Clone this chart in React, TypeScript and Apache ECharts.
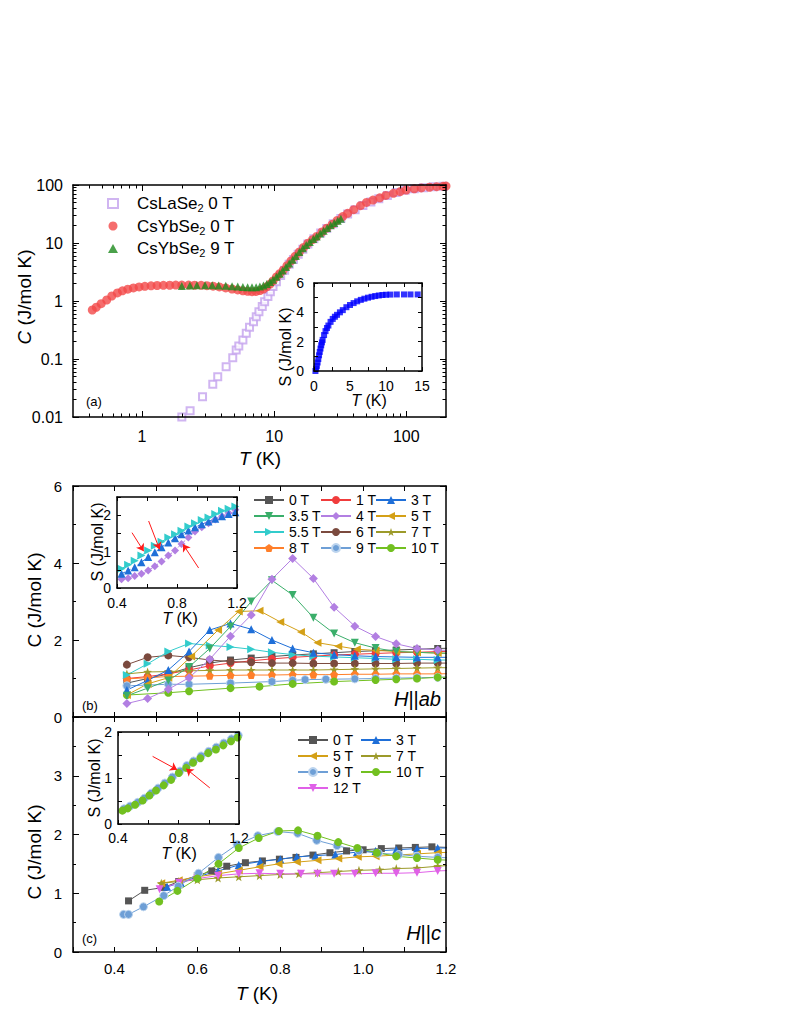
import React, { useEffect, useRef } from "react";
import * as echarts from "echarts";

const FONT = "'Liberation Sans', Arial, Helvetica, sans-serif";

// ---------------- Panel (a): C(T) log-log ----------------
const laT = [2.0, 2.31, 2.87, 3.43, 3.74, 4.33, 4.86, 5.16, 5.4, 5.8, 6.15, 6.51, 6.98, 7.32, 7.67, 8.13, 8.47, 8.97, 9.36, 9.8, 10.4, 11.2, 12.0, 13.0, 14.0, 15.2, 16.5, 18, 20, 22.5, 25, 28, 32, 36, 41, 47, 54, 62, 72, 84, 98, 115, 135, 160, 190];
const laC = [0.01, 0.0128, 0.0224, 0.0366, 0.0496, 0.0738, 0.105, 0.143, 0.168, 0.213, 0.277, 0.352, 0.44, 0.537, 0.655, 0.8, 0.975, 1.19, 1.45, 1.77, 2.15, 2.75, 3.4, 4.3, 5.2, 6.4, 7.8, 9.6, 11.8, 14.8, 17.8, 21.5, 26.5, 31.5, 37.5, 44.5, 51, 58, 66, 74, 81, 86, 90, 93, 95];

const yb0T = [0.42, 0.45, 0.49, 0.54, 0.59, 0.65, 0.71, 0.78, 0.86, 0.95, 1.05, 1.17, 1.3, 1.45, 1.62, 1.8, 2.0, 2.25, 2.5, 2.8, 3.1, 3.45, 3.85, 4.3, 4.8, 5.3, 5.8, 6.3, 6.8, 7.3, 7.8, 8.3, 8.8, 9.3, 9.8, 10.4, 11.0, 11.7, 12.5, 13.4, 14.4, 15.5, 16.7, 18, 19.5, 21, 23, 25, 27.5, 30, 33, 36, 40, 45, 50, 56, 63, 70, 80, 90, 100, 115, 130, 150, 170, 190, 200];
const yb0C = [0.7, 0.78, 0.9, 1.04, 1.22, 1.38, 1.5, 1.6, 1.68, 1.75, 1.79, 1.83, 1.85, 1.86, 1.87, 1.88, 1.88, 1.88, 1.87, 1.86, 1.84, 1.8, 1.75, 1.68, 1.61, 1.55, 1.5, 1.47, 1.45, 1.46, 1.51, 1.61, 1.76, 1.96, 2.22, 2.6, 2.95, 3.4, 4.05, 4.9, 5.9, 7.0, 8.4, 9.9, 11.4, 13.0, 15.5, 18, 21, 24.5, 28.5, 32.5, 37.5, 44, 50, 55, 60, 66, 72, 77, 82, 86, 89, 91.5, 93.5, 95, 96];

const yb9T = [2.0, 2.3, 2.6, 3.0, 3.4, 3.8, 4.3, 4.8, 5.3, 5.8, 6.3, 6.8, 7.3, 7.8, 8.3, 8.8, 9.3, 9.8, 10.4, 11.0, 11.6, 12.3, 13.0, 13.8, 14.6, 15.5, 16.5, 17.5, 18.6, 19.8, 21, 22.3, 23.7, 25.2, 26.8, 28.5, 30.3, 32];
const yb9C = [1.82, 1.85, 1.87, 1.87, 1.86, 1.85, 1.83, 1.8, 1.77, 1.75, 1.73, 1.72, 1.73, 1.77, 1.85, 1.97, 2.13, 2.33, 2.62, 2.95, 3.35, 3.85, 4.45, 5.15, 5.95, 7.0, 8.1, 9.2, 10.4, 11.7, 13.0, 14.6, 16.3, 18.2, 20.2, 22.2, 24.3, 26.3];

// inset (a): entropy
const insAT = [0.2, 0.3, 0.4, 0.5, 0.6, 0.7, 0.8, 0.9, 1.0, 1.1, 1.2, 1.4, 1.6, 1.8, 2.0, 2.3, 2.6, 2.9, 3.2, 3.6, 4.0, 4.5, 5.0, 5.5, 6.0, 6.5, 7.0, 7.5, 8.0, 8.5, 9.0, 9.5, 10.0, 10.6, 11.5, 12.5, 13.4, 14.4];
const insAS = [0.0, 0.15, 0.35, 0.58, 0.82, 1.07, 1.3, 1.53, 1.75, 1.95, 2.12, 2.45, 2.72, 2.93, 3.1, 3.35, 3.55, 3.7, 3.83, 4.0, 4.15, 4.35, 4.5, 4.63, 4.75, 4.85, 4.93, 5.0, 5.06, 5.11, 5.15, 5.18, 5.2, 5.21, 5.22, 5.22, 5.22, 5.22];

const aXMajor = [1, 10, 100];
const aXMinor = [0.4, 0.5, 0.6, 0.7, 0.8, 0.9, 2, 3, 4, 5, 6, 7, 8, 9, 20, 30, 40, 50, 60, 70, 80, 90];
const aYMajor = [0.01, 0.1, 1, 10, 100];
const aYMinor = [0.02, 0.03, 0.04, 0.05, 0.06, 0.07, 0.08, 0.09, 0.2, 0.3, 0.4, 0.5, 0.6, 0.7, 0.8, 0.9, 2, 3, 4, 5, 6, 7, 8, 9, 20, 30, 40, 50, 60, 70, 80, 90];
const aLegendNames = ["CsLaSe2 0 T", "CsYbSe2 0 T", "CsYbSe2 9 T"];

// ---------------- Panel (b): H || ab ----------------
const bT = [0.43, 0.48, 0.53, 0.58, 0.63, 0.68, 0.73, 0.78, 0.83, 0.88, 0.93, 0.98, 1.03, 1.08, 1.13, 1.18, 1.23];
const b0C = [0.88, 1.0, 1.12, 1.28, 1.4, 1.48, 1.53, 1.57, 1.61, 1.64, 1.67, 1.7, 1.72, 1.74, 1.76, 1.78, 1.79];
const b1C = [1.0, 1.05, 1.12, 1.22, 1.33, 1.4, 1.46, 1.51, 1.55, 1.58, 1.61, 1.63, 1.65, 1.67, 1.68, 1.7, 1.71];
const b3C = [0.7, 0.95, 1.22, 1.7, 2.26, 2.43, 2.28, 2.0, 1.78, 1.67, 1.62, 1.59, 1.57, 1.56, 1.55, 1.55, 1.55];
const b35C = [0.55, 0.75, 0.95, 1.3, 1.78, 2.35, 3.0, 3.55, 3.17, 2.58, 2.17, 1.93, 1.79, 1.7, 1.68, 1.66, 1.65];
const b4C = [0.35, 0.48, 0.72, 1.02, 1.5, 2.1, 2.65, 3.58, 4.12, 3.6, 2.85, 2.36, 2.09, 1.9, 1.78, 1.74, 1.72];
const b55C = [1.09, 1.38, 1.7, 1.91, 1.86, 1.82, 1.76, 1.68, 1.62, 1.58, 1.56, 1.54, 1.52, 1.5, 1.5, 1.48, 1.48];
const b6C = [1.36, 1.55, 1.6, 1.55, 1.48, 1.44, 1.42, 1.4, 1.4, 1.39, 1.39, 1.39, 1.39, 1.39, 1.4, 1.4, 1.4];
const b7C = [1.12, 1.17, 1.18, 1.2, 1.21, 1.22, 1.22, 1.22, 1.22, 1.22, 1.23, 1.24, 1.25, 1.26, 1.27, 1.28, 1.28];
const b8C = [0.99, 1.02, 1.05, 1.06, 1.07, 1.08, 1.09, 1.09, 1.1, 1.1, 1.1, 1.11, 1.11, 1.12, 1.12, 1.12, 1.13];
const b5T = [0.43, 0.48, 0.53, 0.585, 0.65, 0.7, 0.75, 0.8, 0.85, 0.89, 0.94, 0.985, 1.03, 1.08, 1.13, 1.18, 1.23];
const b5C = [0.57, 0.86, 1.02, 1.57, 2.26, 2.74, 2.76, 2.47, 2.21, 1.93, 1.84, 1.76, 1.73, 1.7, 1.68, 1.66, 1.65];
const b9T = [0.43, 0.48, 0.53, 0.58, 0.68, 0.78, 0.83, 0.86, 0.91, 0.98, 1.03, 1.08, 1.13, 1.18, 1.23];
const b9C = [0.81, 0.83, 0.85, 0.85, 0.88, 0.92, 0.95, 0.97, 0.98, 0.99, 1.0, 1.01, 1.02, 1.03, 1.04];
const b10T = [0.43, 0.53, 0.58, 0.68, 0.75, 0.83, 0.93, 1.03, 1.08, 1.13, 1.18, 1.23];
const b10C = [0.57, 0.63, 0.67, 0.75, 0.79, 0.86, 0.92, 0.96, 0.98, 1.0, 1.03, 1.04];

// inset (b): entropy
const ibT = [0.43, 0.474, 0.518, 0.563, 0.608, 0.652, 0.697, 0.742, 0.787, 0.83, 0.876, 0.92, 0.965, 1.01, 1.055, 1.1, 1.144, 1.189];
const ib55S = [0.53, 0.64, 0.75, 0.89, 1.03, 1.16, 1.27, 1.39, 1.48, 1.57, 1.69, 1.78, 1.87, 1.94, 2.03, 2.12, 2.18, 2.24];
const ib3S = [0.39, 0.48, 0.57, 0.71, 0.85, 0.98, 1.12, 1.25, 1.37, 1.48, 1.58, 1.67, 1.75, 1.83, 1.9, 1.97, 2.03, 2.08];
const ib4S = [0.24, 0.27, 0.33, 0.39, 0.48, 0.6, 0.73, 0.89, 1.03, 1.21, 1.39, 1.55, 1.67, 1.78, 1.88, 1.97, 2.06, 2.15];
const arrowsB = [[0.5, 1.52, 0.578, 1.01], [0.611, 1.84, 0.684, 1.06], [0.944, 0.55, 0.84, 1.2]];

// ---------------- Panel (c): H || c ----------------
const c0T = [0.434, 0.473, 0.52, 0.555, 0.6, 0.635, 0.671, 0.716, 0.757, 0.798, 0.838, 0.879, 0.92, 0.96, 1.0, 1.044, 1.086, 1.126, 1.166, 1.205];
const c0C = [0.87, 1.05, 1.1, 1.2, 1.3, 1.38, 1.46, 1.52, 1.55, 1.58, 1.61, 1.65, 1.69, 1.72, 1.74, 1.76, 1.77, 1.78, 1.79, 1.78];
const c3T = [0.527, 0.56, 0.6, 0.65, 0.7, 0.752, 0.8, 0.84, 0.885, 0.933, 0.985, 1.03, 1.08, 1.13, 1.18, 1.22];
const c3C = [1.11, 1.18, 1.28, 1.38, 1.48, 1.54, 1.58, 1.62, 1.64, 1.66, 1.7, 1.72, 1.74, 1.76, 1.77, 1.77];
const c5T = [0.513, 0.555, 0.6, 0.65, 0.7, 0.75, 0.796, 0.84, 0.89, 0.94, 0.987, 1.03, 1.08, 1.13, 1.18, 1.22];
const c5C = [1.17, 1.22, 1.28, 1.33, 1.39, 1.45, 1.5, 1.53, 1.56, 1.59, 1.62, 1.63, 1.65, 1.67, 1.69, 1.7];
const c7T = [0.513, 0.555, 0.6, 0.65, 0.7, 0.75, 0.8, 0.845, 0.89, 0.94, 0.99, 1.04, 1.08, 1.13, 1.18, 1.22];
const c7C = [1.17, 1.2, 1.23, 1.26, 1.28, 1.3, 1.32, 1.33, 1.35, 1.37, 1.39, 1.4, 1.42, 1.43, 1.46, 1.48];
const c9T = [0.422, 0.434, 0.47, 0.519, 0.554, 0.603, 0.651, 0.696, 0.746, 0.794, 0.842, 0.888, 0.937, 0.99, 1.037, 1.086, 1.13, 1.18, 1.22];
const c9C = [0.64, 0.64, 0.77, 0.96, 1.12, 1.34, 1.61, 1.83, 1.98, 2.05, 2.02, 1.9, 1.81, 1.72, 1.68, 1.66, 1.63, 1.61, 1.6];
const c10T = [0.508, 0.552, 0.6, 0.651, 0.7, 0.748, 0.797, 0.843, 0.89, 0.94, 0.986, 1.033, 1.08, 1.13, 1.18, 1.22];
const c10C = [0.86, 1.04, 1.25, 1.5, 1.77, 1.94, 2.06, 2.07, 1.98, 1.87, 1.77, 1.69, 1.63, 1.6, 1.57, 1.56];
const c12T = [0.509, 0.556, 0.6, 0.65, 0.7, 0.75, 0.8, 0.85, 0.89, 0.93, 0.98, 1.03, 1.08, 1.13, 1.18, 1.22];
const c12C = [1.07, 1.18, 1.25, 1.3, 1.33, 1.34, 1.33, 1.33, 1.33, 1.33, 1.33, 1.34, 1.34, 1.35, 1.38, 1.39];

// inset (c): entropy
const ic10T = [0.429, 0.465, 0.513, 0.562, 0.607, 0.651, 0.702, 0.751, 0.802, 0.851, 0.896, 0.944, 0.996, 1.047, 1.096, 1.147, 1.191];
const ic10S = [0.29, 0.34, 0.42, 0.51, 0.62, 0.73, 0.84, 0.96, 1.11, 1.22, 1.33, 1.43, 1.54, 1.62, 1.71, 1.8, 1.88];
const ic9T = [0.44, 0.48, 0.53, 0.575, 0.62, 0.665, 0.71, 0.76, 0.81, 0.855, 0.9, 0.95, 1.0, 1.05, 1.1, 1.15, 1.195];
const ic9S = [0.33, 0.39, 0.47, 0.56, 0.67, 0.78, 0.89, 1.02, 1.15, 1.27, 1.37, 1.48, 1.58, 1.67, 1.76, 1.85, 1.93];
const arrowsC = [[0.629, 1.47, 0.791, 1.18], [1.007, 0.785, 0.851, 1.2]];

const bcXLabels = [0.4, 0.6, 0.8, 1.0, 1.2];
const insXLabels = [0.4, 0.8, 1.2];

// ---------------- styles ----------------
const STAR = "path://M0,-10L2.35,-3.24L9.51,-3.09L3.8,1.24L5.88,8.09L0,4L-5.88,8.09L-3.8,1.24L-9.51,-3.09L-2.35,-3.24Z";
const PENT = "path://M0,-10L9.51,-3.09L5.88,8.09L-5.88,8.09L-9.51,-3.09Z";

const COL: Record<string, string> = {
  "0 T": "#555555",
  "1 T": "#f03c3c",
  "3 T": "#1f6fd8",
  "3.5 T": "#3aae6a",
  "4 T": "#b27fe2",
  "5 T": "#d4a017",
  "5.5 T": "#33cccc",
  "6 T": "#7b4a3e",
  "7 T": "#9c9a2a",
  "8 T": "#ff7f2a",
  "9 T": "#6e9fd6",
  "10 T": "#72c020",
  "12 T": "#e060e8",
};
const SYM: Record<string, [string, number, number]> = {
  "0 T": ["rect", 0, 7],
  "1 T": ["circle", 0, 8],
  "3 T": ["triangle", 0, 8],
  "3.5 T": ["triangle", 180, 8],
  "4 T": ["diamond", 0, 9],
  "5 T": ["triangle", 90, 8],
  "5.5 T": ["triangle", -90, 8],
  "6 T": ["circle", 0, 8],
  "7 T": [STAR, 0, 9],
  "8 T": [PENT, 0, 8],
  "9 T": ["circle", 0, 8],
  "10 T": ["circle", 0, 8],
  "12 T": ["triangle", 180, 8],
};

function zip(xs: number[], ys: number[]) {
  return xs.map((x, i) => [x, ys[i]]);
}

function axis(gridIndex: number, type: string, min: number, max: number, position: string, p: any = {}) {
  const o: any = {
    gridIndex,
    type,
    min,
    max,
    position,
    splitLine: { show: false },
    axisLine: { show: p.line !== false, onZero: false, lineStyle: { color: "#000", width: 1.5 } },
    axisTick: { show: true, inside: true, length: p.tickLen ?? 5, lineStyle: { color: "#000", width: 1 } },
    axisLabel: { show: !!p.labels, color: "#000", fontFamily: FONT, fontSize: p.fontSize ?? 15, margin: p.margin ?? 8 },
    axisPointer: { show: false },
    silent: true,
    z: 5,
  };
  if (type === "log") o.logBase = 10;
  if (p.interval != null) o.interval = p.interval;
  if (p.ticks) o.axisTick.customValues = p.ticks;
  if (p.labels) {
    o.axisLabel.customValues = p.labels;
    if (p.fmt) o.axisLabel.formatter = p.fmt;
  }
  if (p.minor) o.minorTick = { show: true, splitNumber: p.minor, length: p.minorLen ?? 3, lineStyle: { color: "#000", width: 1 } };
  return o;
}

function gtext(x: number, y: number, text: string, size: number, opts: any = {}) {
  const tok = (italic: boolean) => ({
    fontSize: size,
    fontFamily: FONT,
    fontStyle: italic ? "italic" : "normal",
    fill: "#000",
    color: "#000",
  });
  return {
    type: "text",
    x,
    y,
    rotation: opts.rot ?? 0,
    z: 100,
    silent: true,
    style: {
      text,
      fill: "#000",
      fontSize: size,
      fontFamily: FONT,
      align: opts.align ?? "center",
      textAlign: opts.align ?? "center",
      verticalAlign: "middle",
      textVerticalAlign: "middle",
      rich: { i: tok(true), n: tok(false) },
    },
  };
}

function buildOption() {
  const grids = [
    { left: 73, top: 185, width: 373, height: 232 },
    { left: 314, top: 283, width: 108, height: 88 },
    { left: 73, top: 486, width: 373, height: 231 },
    { left: 117, top: 497, width: 120, height: 91 },
    { left: 73, top: 717, width: 373, height: 235 },
    { left: 118, top: 732, width: 121, height: 92 },
  ].map((g) => ({ ...g, containLabel: false, outerBoundsMode: "none", show: false }));

  const xAxes: any[] = [];
  const yAxes: any[] = [];
  const addX = (o: any) => {
    xAxes.push(o);
    return xAxes.length - 1;
  };
  const addY = (o: any) => {
    yAxes.push(o);
    return yAxes.length - 1;
  };
  const logFmt = (v: number) => String(Number(v.toPrecision(3)));
  const f1 = (v: number) => Number(v).toFixed(1);

  // panel a
  const ax = addX(axis(0, "log", 0.3, 200, "bottom", { ticks: aXMajor, tickLen: 6, labels: aXMajor, fmt: logFmt, fontSize: 16, margin: 11 }));
  addX(axis(0, "log", 0.3, 200, "bottom", { ticks: aXMinor, tickLen: 3.5, line: false }));
  addX(axis(0, "log", 0.3, 200, "top", { ticks: aXMajor, tickLen: 6 }));
  addX(axis(0, "log", 0.3, 200, "top", { ticks: aXMinor, tickLen: 3.5, line: false }));
  const ay = addY(axis(0, "log", 0.01, 100, "left", { ticks: aYMajor, tickLen: 6, labels: aYMajor, fmt: logFmt, fontSize: 16, margin: 10 }));
  addY(axis(0, "log", 0.01, 100, "left", { ticks: aYMinor, tickLen: 3.5, line: false }));
  addY(axis(0, "log", 0.01, 100, "right", { ticks: aYMajor, tickLen: 6 }));
  addY(axis(0, "log", 0.01, 100, "right", { ticks: aYMinor, tickLen: 3.5, line: false }));

  // inset a
  const iax = addX(axis(1, "value", 0, 15, "bottom", { interval: 2.5, tickLen: 4, labels: [0, 5, 10, 15], fontSize: 14, margin: 8 }));
  addX(axis(1, "value", 0, 15, "top", { interval: 2.5, tickLen: 4 }));
  const iay = addY(axis(1, "value", 0, 6, "left", { interval: 1, tickLen: 4, labels: [0, 2, 4, 6], fontSize: 14, margin: 10 }));
  addY(axis(1, "value", 0, 6, "right", { interval: 1, tickLen: 4 }));

  // panel b
  const bx = addX(axis(2, "value", 0.3, 1.2, "bottom", { interval: 0.1, tickLen: 5 }));
  addX(axis(2, "value", 0.3, 1.2, "top", { interval: 0.1, tickLen: 5 }));
  const by = addY(axis(2, "value", 0, 6, "left", { interval: 2, minor: 2, tickLen: 6, labels: [0, 2, 4, 6], fontSize: 15, margin: 11 }));
  addY(axis(2, "value", 0, 6, "right", { interval: 2, minor: 2, tickLen: 6 }));

  // inset b
  const ibx = addX(axis(3, "value", 0.4, 1.2, "bottom", { interval: 0.2, tickLen: 4, labels: insXLabels, fmt: f1, fontSize: 14, margin: 8 }));
  addX(axis(3, "value", 0.4, 1.2, "top", { interval: 0.2, tickLen: 4 }));
  const iby = addY(axis(3, "value", 0, 2.5, "left", { interval: 0.5, tickLen: 4, labels: [0, 1, 2], fontSize: 14, margin: 6 }));
  addY(axis(3, "value", 0, 2.5, "right", { interval: 0.5, tickLen: 4 }));

  // panel c
  const cx = addX(axis(4, "value", 0.3, 1.2, "bottom", { interval: 0.1, tickLen: 5, labels: bcXLabels, fmt: f1, fontSize: 15, margin: 9 }));
  addX(axis(4, "value", 0.3, 1.2, "top", { interval: 0.1, tickLen: 5 }));
  const cy = addY(axis(4, "value", 0, 4, "left", { interval: 1, minor: 2, tickLen: 6, labels: [0, 1, 2, 3], fontSize: 15, margin: 11 }));
  addY(axis(4, "value", 0, 4, "right", { interval: 1, minor: 2, tickLen: 6 }));

  // inset c
  const icx = addX(axis(5, "value", 0.4, 1.2, "bottom", { interval: 0.2, tickLen: 4, labels: insXLabels, fmt: f1, fontSize: 14, margin: 7 }));
  addX(axis(5, "value", 0.4, 1.2, "top", { interval: 0.2, tickLen: 4 }));
  const icy = addY(axis(5, "value", 0, 2, "left", { interval: 0.5, tickLen: 4, labels: [0, 1, 2], fontSize: 14, margin: 6 }));
  addY(axis(5, "value", 0, 2, "right", { interval: 0.5, tickLen: 4 }));

  const series: any[] = [];

  // panel a scatter
  series.push({
    type: "scatter", name: aLegendNames[0], xAxisIndex: ax, yAxisIndex: ay, data: zip(laT, laC),
    symbol: "emptyRect", symbolSize: 7, symbolKeepAspect: true,
    itemStyle: { color: "#c4a3ee", borderColor: "#c4a3ee", borderWidth: 1 }, z: 2,
  });
  series.push({
    type: "scatter", name: aLegendNames[1], xAxisIndex: ax, yAxisIndex: ay, data: zip(yb0T, yb0C),
    symbol: "circle", symbolSize: 9, symbolKeepAspect: true, itemStyle: { color: "#f24848" }, z: 3,
  });
  series.push({
    type: "scatter", name: aLegendNames[2], xAxisIndex: ax, yAxisIndex: ay, data: zip(yb9T, yb9C),
    symbol: "triangle", symbolSize: 8, symbolKeepAspect: true, itemStyle: { color: "#1d8a1d" }, z: 4,
  });
  series.push({
    type: "scatter", name: "insA", xAxisIndex: iax, yAxisIndex: iay, data: zip(insAT, insAS),
    symbol: "rect", symbolSize: 6, itemStyle: { color: "#0000ff" }, z: 4,
  });

  const lineS = (prefix: string, key: string, xi: number, yi: number, T: number[], C: number[], extra: any = {}) => {
    const [sym, rot, size] = SYM[key];
    const color = COL[key];
    const s: any = {
      type: "line", name: prefix + ":" + key, xAxisIndex: xi, yAxisIndex: yi, data: zip(T, C),
      symbol: sym, symbolRotate: rot, symbolSize: size, showSymbol: true,
      lineStyle: { color, width: 1 }, itemStyle: { color },
      emphasis: { disabled: true }, z: 3,
      ...extra,
    };
    if (key === "9 T") s.itemStyle = { color, borderColor: "#bcd4ee", borderWidth: 1 };
    return s;
  };

  // panel b
  series.push(lineS("b", "0 T", bx, by, bT, b0C));
  series.push(lineS("b", "1 T", bx, by, bT, b1C));
  series.push(lineS("b", "6 T", bx, by, bT, b6C));
  series.push(lineS("b", "7 T", bx, by, bT, b7C));
  series.push(lineS("b", "8 T", bx, by, bT, b8C));
  series.push(lineS("b", "9 T", bx, by, b9T, b9C));
  series.push(lineS("b", "10 T", bx, by, b10T, b10C));
  series.push(lineS("b", "5.5 T", bx, by, bT, b55C));
  series.push(lineS("b", "3 T", bx, by, bT, b3C));
  series.push(lineS("b", "5 T", bx, by, b5T, b5C));
  series.push(lineS("b", "3.5 T", bx, by, bT, b35C));
  series.push(lineS("b", "4 T", bx, by, bT, b4C));

  const arrowLine = (arr: number[][]) => ({
    silent: true,
    animation: false,
    symbol: ["none", "arrow"],
    symbolSize: 7,
    label: { show: false },
    lineStyle: { color: "#ff1a1a", width: 1, type: "solid" },
    emphasis: { disabled: true },
    data: arr.map((a) => [{ coord: [a[0], a[1]] }, { coord: [a[2], a[3]] }]),
  });

  // inset b
  series.push(lineS("ib", "4 T", ibx, iby, ibT, ib4S, { symbolSize: 8, lineStyle: { color: COL["4 T"], width: 1, type: "dashed" } }));
  series.push(lineS("ib", "3 T", ibx, iby, ibT, ib3S, { symbolSize: 8, lineStyle: { color: COL["3 T"], width: 1, type: "dashed" } }));
  series.push(lineS("ib", "5.5 T", ibx, iby, ibT, ib55S, { symbolSize: 8, lineStyle: { color: COL["5.5 T"], width: 1, type: "dashed" }, markLine: arrowLine(arrowsB) }));

  // panel c
  series.push(lineS("c", "0 T", cx, cy, c0T, c0C));
  series.push(lineS("c", "3 T", cx, cy, c3T, c3C));
  series.push(lineS("c", "5 T", cx, cy, c5T, c5C));
  series.push(lineS("c", "7 T", cx, cy, c7T, c7C));
  series.push(lineS("c", "12 T", cx, cy, c12T, c12C));
  series.push(lineS("c", "9 T", cx, cy, c9T, c9C));
  series.push(lineS("c", "10 T", cx, cy, c10T, c10C));

  // inset c
  series.push(lineS("ic", "9 T", icx, icy, ic9T, ic9S, { symbolSize: 8 }));
  series.push(lineS("ic", "10 T", icx, icy, ic10T, ic10S, { symbolSize: 8, markLine: arrowLine(arrowsC) }));

  const legendBase = {
    orient: "vertical",
    padding: 0,
    itemWidth: 30,
    itemHeight: 10,
    itemGap: 2,
    selectedMode: false,
    textStyle: { fontFamily: FONT, fontSize: 14, color: "#000", lineHeight: 14 },
    formatter: (n: string) => n.split(":")[1],
  };
  const legA = {
    orient: "vertical",
    left: 107,
    top: 195,
    padding: 0,
    itemWidth: 10,
    itemHeight: 9,
    itemGap: 4,
    symbolKeepAspect: true,
    selectedMode: false,
    data: aLegendNames,
    formatter: (n: string) => {
      const m = n.match(/^(Cs\w+?)2 (.*)$/);
      return m ? `{g|}{n|${m[1]}}{s|2}{n| ${m[2]}}` : n;
    },
    textStyle: {
      fontFamily: FONT,
      fontSize: 17,
      color: "#000",
      rich: {
        g: { width: 14, lineHeight: 20 },
        n: { fontFamily: FONT, fontSize: 17, color: "#000", lineHeight: 20 },
        s: { fontFamily: FONT, fontSize: 11, color: "#000", lineHeight: 11, verticalAlign: "bottom" },
      },
    },
  };
  const legends = [
    legA,
    { ...legendBase, left: 253, top: 493, data: ["b:0 T", "b:3.5 T", "b:5.5 T", "b:8 T"] },
    { ...legendBase, left: 320, top: 493, data: ["b:1 T", "b:4 T", "b:6 T", "b:9 T"] },
    { ...legendBase, left: 375, top: 493, data: ["b:3 T", "b:5 T", "b:7 T", "b:10 T"] },
    { ...legendBase, left: 297, top: 733, data: ["c:0 T", "c:5 T", "c:9 T", "c:12 T"] },
    { ...legendBase, left: 360, top: 733, data: ["c:3 T", "c:7 T", "c:10 T"] },
  ];

  const R = Math.PI / 2;
  const graphic = [
    gtext(24, 297, "{i|C}{n| (J/mol K)}", 19, { rot: R }),
    gtext(260, 458, "{i|T}{n| (K)}", 19),
    gtext(34, 600, "{n|C (J/mol K)}", 19, { rot: R }),
    gtext(34, 852, "{n|C (J/mol K)}", 19, { rot: R }),
    gtext(257, 993, "{i|T}{n| (K)}", 19),
    gtext(285, 347, "{n|S (J/mol K)}", 16, { rot: R }),
    gtext(369, 400, "{i|T}{n| (K)}", 16),
    gtext(97, 542, "{n|S (J/mol K)}", 16, { rot: R }),
    gtext(180, 618, "{i|T}{n| (K)}", 16),
    gtext(94, 778, "{n|S (J/mol K)}", 16, { rot: R }),
    gtext(179, 853, "{i|T}{n| (K)}", 16),
    gtext(86, 401, "{n|(a)}", 13, { align: "left" }),
    gtext(82, 705, "{n|(b)}", 13, { align: "left" }),
    gtext(82, 938, "{n|(c)}", 13, { align: "left" }),
    gtext(441, 699, "{i|H}{n|||}{i|ab}", 20, { align: "right" }),
    gtext(441, 933, "{i|H}{n|||}{i|c}", 20, { align: "right" }),
  ];

  return {
    animation: false,
    backgroundColor: "#fff",
    textStyle: { fontFamily: FONT },
    grid: grids,
    xAxis: xAxes,
    yAxis: yAxes,
    legend: legends,
    series,
    graphic,
  };
}

export default function App() {
  const ref = useRef<HTMLDivElement>(null);
  useEffect(() => {
    if (!ref.current) return;
    const chart = echarts.init(ref.current, undefined, { renderer: "svg" });
    chart.setOption(buildOption() as any);
    return () => chart.dispose();
  }, []);
  return (
    <div
      ref={ref}
      style={{ position: "absolute", left: 0, top: 0, width: 789, height: 1021, background: "#fff" }}
    />
  );
}
